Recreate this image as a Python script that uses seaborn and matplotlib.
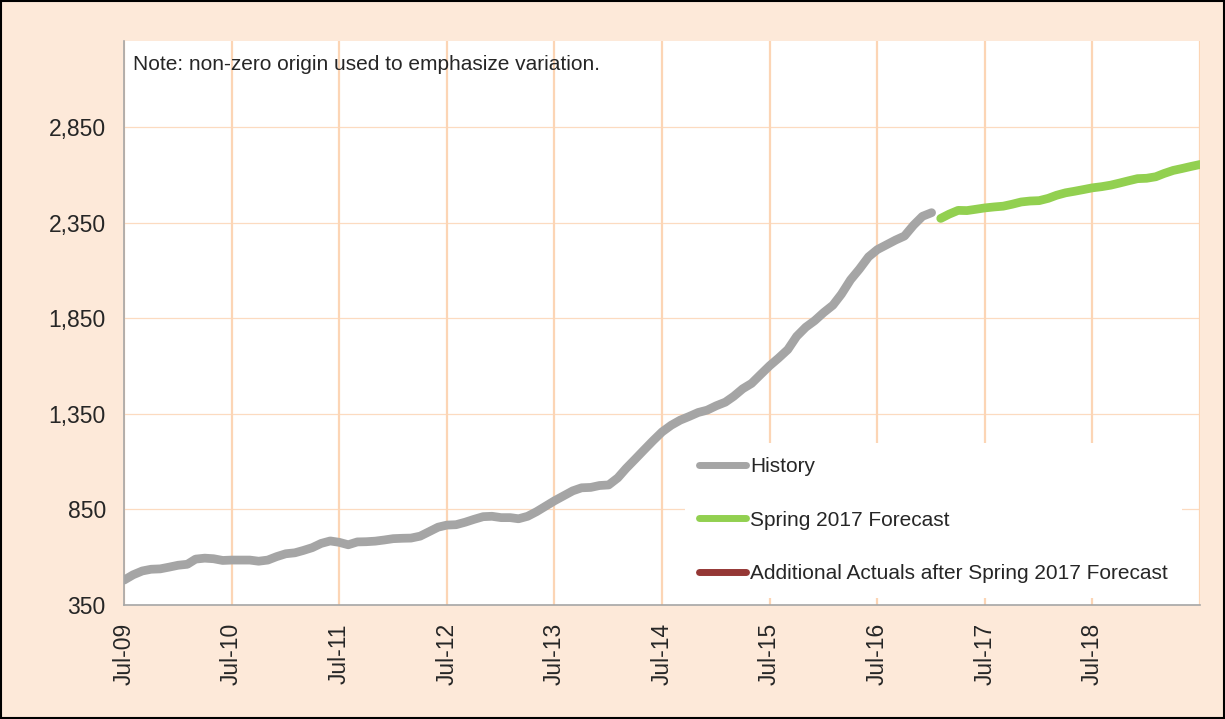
import matplotlib
matplotlib.use("Agg")
import matplotlib.pyplot as plt
from matplotlib.patches import Rectangle
from matplotlib.ticker import FuncFormatter
import seaborn as sns
import pandas as pd

# ---- data ----
history_start = "2009-07-01"
history_values = [480, 508, 528, 537, 539, 548, 558, 563, 590, 595, 592, 583,
                  585, 585, 585, 579, 585, 603, 618, 623, 635, 650, 672, 685,
                  678, 665, 680, 681, 684, 690, 697, 699, 700, 710, 733, 757,
                  768, 770, 783, 798, 812, 814, 807, 807, 801, 814, 838, 867,
                  895, 921, 947, 963, 965, 975, 978, 1015, 1064, 1113, 1161, 1210,
                  1255, 1290, 1317, 1336, 1357, 1369, 1392, 1411, 1441, 1481, 1509, 1556,
                  1601, 1642, 1686, 1755, 1803, 1837, 1880, 1918, 1976, 2051, 2107, 2171,
                  2209, 2234, 2259, 2280, 2337, 2383, 2402]
forecast_start = "2017-02-01"
forecast_values = [2372, 2394, 2414, 2413, 2420, 2427, 2432, 2436, 2446, 2458,
                   2463, 2465, 2477, 2493, 2506, 2514, 2523, 2532, 2538, 2546,
                   2557, 2569, 2580, 2582, 2590, 2607, 2623, 2633, 2644, 2654]
additional_dates = []
additional_values = []
series_labels = ["History", "Spring 2017 Forecast",
                 "Additional Actuals after Spring 2017 Forecast"]
xtick_years = list(range(2009, 2019))
yticks = [350, 850, 1350, 1850, 2350, 2850]
note_text = "Note: non-zero origin used to emphasize variation."

# ---- frames ----
hist_df = pd.DataFrame({"date": pd.date_range(history_start, periods=len(history_values), freq="MS"),
                        "value": history_values})
fc_df = pd.DataFrame({"date": pd.date_range(forecast_start, periods=len(forecast_values), freq="MS"),
                      "value": forecast_values})

sns.set_style("white")
plt.rcParams["font.family"] = ["Liberation Sans", "DejaVu Sans"]

BG = "#FDE9D9"
GRID = "#FCD5B5"
LW = 6.3

fig = plt.figure(figsize=(12.25, 7.19), dpi=100, facecolor=BG)
ax = fig.add_axes([124/1225, 1 - 605/719, (1200-124)/1225, (605-41)/719])
ax.set_facecolor("white")

sns.lineplot(data=hist_df, x="date", y="value", ax=ax, color="#A5A5A5", linewidth=LW,
             label=series_labels[0], solid_capstyle="round")
sns.lineplot(data=fc_df, x="date", y="value", ax=ax, color="#92D050", linewidth=LW,
             label=series_labels[1], solid_capstyle="round")
ax.plot(pd.to_datetime(additional_dates), additional_values, color="#953735", linewidth=LW,
        label=series_labels[2], solid_capstyle="round")

ax.set_xlim(pd.Timestamp("2009-07-01"), pd.Timestamp("2019-07-01"))
ax.set_ylim(350, 3300)

xt = [pd.Timestamp(f"{y}-07-01") for y in xtick_years] + [pd.Timestamp("2019-07-01")]
ax.set_xticks(xt)
ax.set_xticklabels([f"Jul-{str(y)[2:]}" for y in xtick_years] + [""], rotation=90, fontsize=16.5)
ax.set_yticks(yticks)
ax.yaxis.set_major_formatter(FuncFormatter(lambda v, p: f"{int(v):,}"))
ax.tick_params(axis="y", labelsize=16.5, length=4.5, width=1, color="#A6A6A6", direction="out", pad=8.6)
ax.tick_params(axis="x", length=4.5, width=1, color="#A6A6A6", direction="out", pad=8.6)
ax.set_xlabel("")
ax.set_ylabel("")

# gridlines
for t in xt:
    ax.axvline(t, color=GRID, linewidth=1.6, zorder=0.5)
for v in yticks[1:]:
    ax.axhline(v, color=GRID, linewidth=0.9, alpha=0.85, zorder=0.5)

for s in ["top", "right"]:
    ax.spines[s].set_visible(False)
for s in ["left", "bottom"]:
    ax.spines[s].set_color("#A6A6A6")
    ax.spines[s].set_linewidth(1.2)
    ax.spines[s].set_zorder(3)

ax.text(0.008, 0.975, note_text, transform=ax.transAxes, fontsize=15, va="top", ha="left")

leg = ax.legend(loc="upper left", bbox_to_anchor=((685-124)/1076, (605-443)/564), fontsize=15,
                frameon=True, facecolor="white", edgecolor="none", framealpha=1,
                handlelength=2.25, handletextpad=0.18, labelspacing=1.66,
                borderpad=0.68, borderaxespad=0)
for line in leg.get_lines():
    line.set_linewidth(5)
    line.set_solid_capstyle("round")
leg.set_zorder(2)

fig.patches.append(Rectangle((0.0008, 0.0012), 0.9984, 0.9976, transform=fig.transFigure,
                             fill=False, edgecolor="black", linewidth=1.5))

fig.savefig("out.png", dpi=100, facecolor=BG)
